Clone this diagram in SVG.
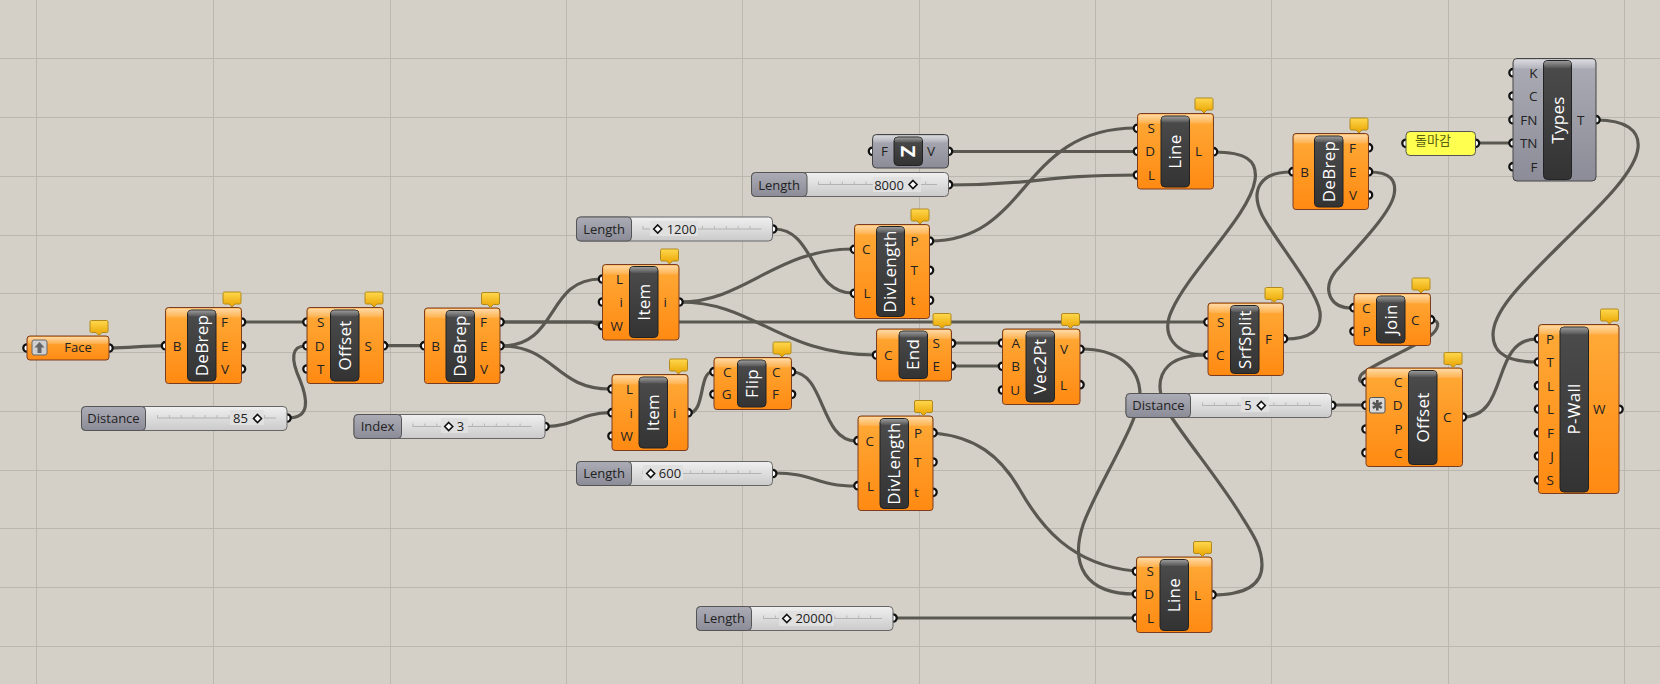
<svg xmlns="http://www.w3.org/2000/svg" width="1660" height="684" viewBox="0 0 1660 684">
<style>
text{font-family:"Open Sans","Noto Sans",sans-serif;fill:#222}
.g{stroke:#bab8ae;stroke-width:1;fill:none}
.w{fill:none;stroke:#5a5850;stroke-width:3.2;stroke-linecap:round}
.p{fill:#fff;stroke:#111;stroke-width:2.3}
.b{fill:url(#or);stroke:#7a3d22;stroke-width:1}
.n{fill:url(#gy);stroke:#444;stroke-width:1}
.hi{fill:url(#hl)}
.c{fill:url(#ca);stroke:#222;stroke-width:1}
.ct{fill:url(#ct)}
.cap{font-size:17px;letter-spacing:.3px;fill:#fff;text-anchor:middle}
.l{font-size:13.5px;text-anchor:end}
.r{font-size:13.5px;text-anchor:start}
.sb{fill:url(#sl);stroke:#666;stroke-width:1}
.sn{fill:url(#gy);stroke:#555;stroke-width:1}
.st{font-size:13px;text-anchor:middle}
.v{font-size:13px;text-anchor:middle}
.rail{stroke:#b2b2b2;stroke-width:1;fill:none}
.tick{stroke:#b8b8b8;stroke-width:3;stroke-dasharray:1 10.9;fill:none}
.m{fill:#e0e0e0}
</style>
<defs>
<linearGradient id="or" x1="0" y1="0" x2="0" y2="1"><stop offset="0" stop-color="#ffaa38"/><stop offset="1" stop-color="#ff8a12"/></linearGradient>
<linearGradient id="gy" x1="0" y1="0" x2="0" y2="1"><stop offset="0" stop-color="#acacb6"/><stop offset="1" stop-color="#8c8c98"/></linearGradient>
<linearGradient id="hl" x1="0" y1="0" x2="0" y2="1"><stop offset="0" stop-color="#fff" stop-opacity=".55"/><stop offset="1" stop-color="#fff" stop-opacity=".12"/></linearGradient>
<linearGradient id="ca" x1="0" y1="0" x2="0" y2="1"><stop offset="0" stop-color="#4c4c4c"/><stop offset="1" stop-color="#333"/></linearGradient>
<linearGradient id="ct" x1="0" y1="0" x2="0" y2="1"><stop offset="0" stop-color="#999"/><stop offset="1" stop-color="#555"/></linearGradient>
<linearGradient id="sl" x1="0" y1="0" x2="0" y2="1"><stop offset="0" stop-color="#f0f0f0"/><stop offset="1" stop-color="#cacaca"/></linearGradient>
<linearGradient id="bu" x1="0" y1="0" x2="0" y2="1"><stop offset="0" stop-color="#ffd84e"/><stop offset="1" stop-color="#e9a300"/></linearGradient>
<path id="bub" d="M-16.5 -15.5H-1.5Q0 -15.5 0 -14V-5Q0 -3.5 -1.5 -3.5H-6L-9 -.5L-12 -3.5H-16.5Q-18 -3.5 -18 -5V-14Q-18 -15.5 -16.5 -15.5Z" fill="url(#bu)" stroke="#b08a1e"/>
<path id="dia" d="M0 -4L4 0L0 4L-4 0Z" fill="#fff" stroke="#111" stroke-width="1.6"/>
</defs>
<rect width="1660" height="684" fill="#d4d0c8"/>
<g id="grid">
<path class="g" d="M36.5 0V684M213.5 0V684M390.5 0V684M566.5 0V684M742.5 0V684M919.5 0V684M1095.5 0V684M1271.5 0V684M1448.5 0V684M1624.5 0V684"/>
<path class="g" d="M0 58.5H1660M0 117.5H1660M0 176.5H1660M0 235.5H1660M0 293.5H1660M0 352.5H1660M0 411.5H1660M0 470.5H1660M0 528.5H1660M0 587.5H1660M0 646.5H1660"/>
</g>
<g id="connectors">
<path class="w" d="M109 348C130 348 140 346 165 345.7"/>
<path class="w" d="M243 322H305"/>
<path class="w" d="M288 418C310 418 308 400 300 380C290 358 292 346 305 346"/>
<path class="w" d="M384 345.7H423"/>
<path class="w" d="M501 322H1206"/>
<path class="w" d="M501 322H590C595 322 597 325 601 325.5"/>
<path class="w" d="M501 346C560 346 545 279 601 279"/>
<path class="w" d="M501 346C555 346 555 389 610 389"/>
<path class="w" d="M546 426.5C575 426 580 413 610 412.7"/>
<path class="w" d="M689 413C705 413 699 372 712 372"/>
<path class="w" d="M792 372C825 372 820 441 856 441"/>
<path class="w" d="M774 473C815 473 815 486 856 486"/>
<path class="w" d="M680 302C745 302 775 249 853 249"/>
<path class="w" d="M680 302C755 302 780 355 875 355"/>
<path class="w" d="M774 229C815 229 810 293 853 293"/>
<path class="w" d="M930 241C1030 241 1020 128 1136 128"/>
<path class="w" d="M949 151.5H1136"/>
<path class="w" d="M949 185C1040 185 1040 175 1136 175"/>
<path class="w" d="M952 343H1001"/>
<path class="w" d="M952 366H1001"/>
<path class="w" d="M1214 152C1245 152 1258 160 1255 180C1250 215 1190 270 1172 310C1160 335 1175 355 1206 355"/>
<path class="w" d="M1212 595C1245 595 1262 585 1262 565C1262 545 1250 530 1237 509C1215 475 1190 445 1170 415C1152 388 1155 355 1206 355"/>
<path class="w" d="M1081 349C1115 349 1140 365 1140 395C1140 420 1095 490 1083 525C1070 565 1085 594 1135 594"/>
<path class="w" d="M934 433C975 437 1000 455 1020 490C1040 525 1070 565 1135 571"/>
<path class="w" d="M894 618H1135"/>
<path class="w" d="M1285 339C1310 339 1322 330 1320 312C1317 290 1275 240 1262 215C1250 190 1260 172 1291 172"/>
<path class="w" d="M1369 172C1390 172 1397 180 1394 195C1390 215 1350 255 1335 272C1322 290 1330 308 1352 308"/>
<path class="w" d="M1431 320C1442 320 1438 330 1430 336C1410 350 1370 365 1361 375C1358 380 1360 382 1364 382"/>
<path class="w" d="M1333 405H1364"/>
<path class="w" d="M1463 417C1510 417 1490 339 1537 339"/>
<path class="w" d="M1597 120C1625 120 1640 130 1638 148C1635 175 1590 215 1560 245C1525 280 1493 310 1493 335C1493 355 1510 362 1537 362"/>
<path class="w" d="M1476 143H1511"/>
</g>

<g id="face">
<circle class="p" cx="27" cy="348" r="3.7"/><circle class="p" cx="109" cy="348" r="3.7"/>
<rect class="b" x="27" y="336" width="82" height="24" rx="3"/><rect class="hi" x="28" y="337" width="80" height="7" rx="2"/>
<rect x="32" y="340" width="15" height="15" rx="2" fill="#cfcfcf" stroke="#666"/>
<path d="M39.5 342L44.5 347.5H41.5V353H37.5V347.5H34.5Z" fill="#666"/>
<text x="78" y="352" font-size="13" text-anchor="middle">Face</text>
<use href="#bub" x="108" y="336"/>
</g>

<g id="debrep1">
<circle class="p" cx="165.5" cy="345.7" r="3.7"/><circle class="p" cx="241.5" cy="322" r="3.7"/><circle class="p" cx="241.5" cy="345.7" r="3.7"/><circle class="p" cx="241.5" cy="369" r="3.7"/>
<rect class="b" x="165.5" y="307.5" width="76" height="76" rx="3"/><rect class="hi" x="166.5" y="308.5" width="74" height="9" rx="2"/>
<rect class="c" x="187.5" y="310" width="28.5" height="71" rx="4"/><rect class="ct" x="188" y="310.5" width="27.5" height="6" rx="3"/>
<text class="cap" transform="translate(207.5,345.5) rotate(-90)">DeBrep</text>
<text class="l" x="181.5" y="350.5">B</text><text class="r" x="221" y="327">F</text><text class="r" x="221" y="350.5">E</text><text class="r" x="221" y="374">V</text>
<use href="#bub" x="241" y="307.5"/>
</g>

<g id="offset1">
<circle class="p" cx="307" cy="322" r="3.7"/><circle class="p" cx="307" cy="345.7" r="3.7"/><circle class="p" cx="307" cy="369" r="3.7"/><circle class="p" cx="383.5" cy="345.7" r="3.7"/>
<rect class="b" x="307" y="307.5" width="76.5" height="76" rx="3"/><rect class="hi" x="308" y="308.5" width="74.5" height="9" rx="2"/>
<rect class="c" x="330.5" y="310" width="28.5" height="71" rx="4"/><rect class="ct" x="331" y="310.5" width="27.5" height="6" rx="3"/>
<text class="cap" transform="translate(350.5,345.5) rotate(-90)">Offset</text>
<text class="l" x="324.5" y="327">S</text><text class="l" x="324.5" y="350.5">D</text><text class="l" x="324.5" y="374">T</text><text class="r" x="364.5" y="350.5">S</text>
<use href="#bub" x="383" y="307.5"/>
</g>

<g id="slider85">
<circle class="p" cx="287" cy="418" r="3.7"/>
<rect class="sb" x="81.5" y="406.5" width="205.5" height="24" rx="4"/>
<rect class="sn" x="81.5" y="406.5" width="64" height="24" rx="4"/>
<text class="st" x="113.5" y="423">Distance</text>
<path class="rail" d="M157 418H276"/><path class="tick" d="M157 416.5H276"/>
<rect class="m" x="230" y="410" width="34" height="15"/>
<text class="v" x="240.5" y="423">85</text><use href="#dia" x="257.5" y="418.5"/>
</g>

<g id="debrep2">
<circle class="p" cx="424.5" cy="345.7" r="3.7"/><circle class="p" cx="500" cy="322" r="3.7"/><circle class="p" cx="500" cy="345.7" r="3.7"/><circle class="p" cx="500" cy="369" r="3.7"/>
<rect class="b" x="424.5" y="308" width="75.5" height="75.5" rx="3"/><rect class="hi" x="425.5" y="309" width="73.5" height="9" rx="2"/>
<rect class="c" x="446" y="310.5" width="28.5" height="71" rx="4"/><rect class="ct" x="446.5" y="311" width="27.5" height="6" rx="3"/>
<text class="cap" transform="translate(466,346) rotate(-90)">DeBrep</text>
<text class="l" x="440" y="350.5">B</text><text class="r" x="480" y="327">F</text><text class="r" x="480" y="350.5">E</text><text class="r" x="480" y="374">V</text>
<use href="#bub" x="499.5" y="308"/>
</g>

<g id="item1">
<circle class="p" cx="602.5" cy="279" r="3.7"/><circle class="p" cx="602.5" cy="302" r="3.7"/><circle class="p" cx="602.5" cy="325.7" r="3.7"/><circle class="p" cx="679" cy="302" r="3.7"/>
<rect class="b" x="602.5" y="264.5" width="76.5" height="75.5" rx="3"/><rect class="hi" x="603.5" y="265.5" width="74.5" height="9" rx="2"/>
<rect class="c" x="629.5" y="266.5" width="28.5" height="71" rx="4"/><rect class="ct" x="630" y="267" width="27.5" height="6" rx="3"/>
<text class="cap" transform="translate(649.5,302) rotate(-90)">Item</text>
<text class="l" x="623" y="284">L</text><text class="l" x="623" y="307">i</text><text class="l" x="623" y="330.5">W</text><text class="r" x="663.5" y="307">i</text>
<use href="#bub" x="678.5" y="264.5"/>
</g>

<g id="item2">
<circle class="p" cx="612" cy="389" r="3.7"/><circle class="p" cx="612" cy="412.7" r="3.7"/><circle class="p" cx="612" cy="436" r="3.7"/><circle class="p" cx="688" cy="412.7" r="3.7"/>
<rect class="b" x="612" y="374.5" width="76" height="76" rx="3"/><rect class="hi" x="613" y="375.5" width="74" height="9" rx="2"/>
<rect class="c" x="639" y="377" width="28.5" height="71" rx="4"/><rect class="ct" x="639.5" y="377.5" width="27.5" height="6" rx="3"/>
<text class="cap" transform="translate(659,412.5) rotate(-90)">Item</text>
<text class="l" x="633" y="394">L</text><text class="l" x="633" y="417.5">i</text><text class="l" x="633" y="441">W</text><text class="r" x="673" y="417.5">i</text>
<use href="#bub" x="687.5" y="374.5"/>
</g>

<g id="sliderIndex">
<circle class="p" cx="545" cy="426.5" r="3.7"/>
<rect class="sb" x="354" y="414.5" width="191" height="24" rx="4"/>
<rect class="sn" x="354" y="414.5" width="47.5" height="24" rx="4"/>
<text class="st" x="377.5" y="431">Index</text>
<path class="rail" d="M412.5 426.5H531.5"/><path class="tick" d="M412.5 425H531.5"/>
<rect class="m" x="441" y="418" width="27" height="15"/>
<use href="#dia" x="448.7" y="426.5"/><text class="v" x="460.5" y="431">3</text>
</g>

<g id="flip">
<circle class="p" cx="714" cy="371.7" r="3.7"/><circle class="p" cx="714" cy="394.3" r="3.7"/><circle class="p" cx="791.5" cy="371.7" r="3.7"/><circle class="p" cx="791.5" cy="394.3" r="3.7"/>
<rect class="b" x="714" y="357.5" width="77.5" height="52" rx="3"/><rect class="hi" x="715" y="358.5" width="75.5" height="9" rx="2"/>
<rect class="c" x="737.5" y="360" width="28.5" height="47" rx="4"/><rect class="ct" x="738" y="360.5" width="27.5" height="6" rx="3"/>
<text class="cap" transform="translate(757.5,383.5) rotate(-90)">Flip</text>
<text class="l" x="731.5" y="376.5">C</text><text class="l" x="731.5" y="399">G</text><text class="r" x="772" y="376.5">C</text><text class="r" x="772" y="399">F</text>
<use href="#bub" x="791" y="357.5"/>
</g>

<g id="slider1200">
<circle class="p" cx="772.7" cy="229" r="3.7"/>
<rect class="sb" x="576.5" y="217" width="196" height="24" rx="4"/>
<rect class="sn" x="576.5" y="217" width="55" height="24" rx="4"/>
<text class="st" x="604" y="233.5">Length</text>
<path class="rail" d="M642.5 229H761.5"/><path class="tick" d="M642.5 227.5H761.5"/>
<rect class="m" x="650" y="221" width="48" height="15"/>
<use href="#dia" x="657.7" y="229"/><text class="v" x="681.5" y="233.5">1200</text>
</g>

<g id="slider600">
<circle class="p" cx="772.7" cy="473.5" r="3.7"/>
<rect class="sb" x="576.5" y="461.5" width="196" height="24" rx="4"/>
<rect class="sn" x="576.5" y="461.5" width="55" height="24" rx="4"/>
<text class="st" x="604" y="478">Length</text>
<path class="rail" d="M642.5 473.5H761.5"/><path class="tick" d="M642.5 472H761.5"/>
<rect class="m" x="643" y="465" width="40" height="15"/>
<use href="#dia" x="650.7" y="473.5"/><text class="v" x="670" y="478">600</text>
</g>

<g id="divlength1">
<circle class="p" cx="854.5" cy="249.3" r="3.7"/><circle class="p" cx="854.5" cy="293.3" r="3.7"/><circle class="p" cx="929.5" cy="241" r="3.7"/><circle class="p" cx="929.5" cy="270.3" r="3.7"/><circle class="p" cx="929.5" cy="300.3" r="3.7"/>
<rect class="b" x="854.5" y="224.5" width="75" height="94" rx="3"/><rect class="hi" x="855.5" y="225.5" width="73" height="9" rx="2"/>
<rect class="c" x="876.5" y="226.5" width="28" height="90" rx="4"/><rect class="ct" x="877" y="227" width="27" height="6" rx="3"/>
<text class="cap" transform="translate(896,271.5) rotate(-90)">DivLength</text>
<text class="l" x="870.5" y="254">C</text><text class="l" x="870.5" y="298">L</text><text class="r" x="910.5" y="246">P</text><text class="r" x="910.5" y="275">T</text><text class="r" x="910.5" y="305">t</text>
<use href="#bub" x="929" y="224.5"/>
</g>

<g id="divlength2">
<circle class="p" cx="858" cy="440.7" r="3.7"/><circle class="p" cx="858" cy="485.7" r="3.7"/><circle class="p" cx="933" cy="432.7" r="3.7"/><circle class="p" cx="933" cy="462" r="3.7"/><circle class="p" cx="933" cy="492.3" r="3.7"/>
<rect class="b" x="858" y="416" width="75" height="94.5" rx="3"/><rect class="hi" x="859" y="417" width="73" height="9" rx="2"/>
<rect class="c" x="880" y="418.5" width="28.5" height="90" rx="4"/><rect class="ct" x="880.5" y="419" width="27.5" height="6" rx="3"/>
<text class="cap" transform="translate(900,463.5) rotate(-90)">DivLength</text>
<text class="l" x="874" y="445.5">C</text><text class="l" x="874" y="490.5">L</text><text class="r" x="914" y="437.5">P</text><text class="r" x="914" y="467">T</text><text class="r" x="914" y="497">t</text>
<use href="#bub" x="932.5" y="416"/>
</g>

<g id="end">
<circle class="p" cx="876.5" cy="355" r="3.7"/><circle class="p" cx="951.5" cy="343.3" r="3.7"/><circle class="p" cx="951.5" cy="366" r="3.7"/>
<rect class="b" x="876.5" y="329" width="75" height="52" rx="3"/><rect class="hi" x="877.5" y="330" width="73" height="9" rx="2"/>
<rect class="c" x="899" y="331" width="28.5" height="47.5" rx="4"/><rect class="ct" x="899.5" y="331.5" width="27.5" height="6" rx="3"/>
<text class="cap" transform="translate(919,354.5) rotate(-90)">End</text>
<text class="l" x="892.5" y="360">C</text><text class="r" x="932.5" y="348">S</text><text class="r" x="932.5" y="371">E</text>
<use href="#bub" x="951" y="329"/>
</g>

<g id="vec2pt">
<circle class="p" cx="1002.5" cy="343" r="3.7"/><circle class="p" cx="1002.5" cy="366.3" r="3.7"/><circle class="p" cx="1002.5" cy="390" r="3.7"/><circle class="p" cx="1080" cy="349.3" r="3.7"/><circle class="p" cx="1080" cy="384.7" r="3.7"/>
<rect class="b" x="1002.5" y="329" width="77.5" height="75.5" rx="3"/><rect class="hi" x="1003.5" y="330" width="75.5" height="9" rx="2"/>
<rect class="c" x="1026" y="331" width="28.5" height="71" rx="4"/><rect class="ct" x="1026.5" y="331.5" width="27.5" height="6" rx="3"/>
<text class="cap" transform="translate(1046,366.5) rotate(-90)">Vec2Pt</text>
<text class="l" x="1020" y="348">A</text><text class="l" x="1020" y="371">B</text><text class="l" x="1020" y="395">U</text><text class="r" x="1060" y="354">V</text><text class="r" x="1060" y="389.5">L</text>
<use href="#bub" x="1079.5" y="329"/>
</g>

<g id="z">
<circle class="p" cx="872.5" cy="151.3" r="3.7"/><circle class="p" cx="948.5" cy="151.3" r="3.7"/>
<rect class="n" x="872.5" y="134.5" width="76" height="33.5" rx="4"/><rect class="hi" x="873.5" y="135.5" width="74" height="7" rx="2"/>
<rect class="c" x="894" y="137" width="28.5" height="28.5" rx="4"/><rect class="ct" x="894.5" y="137.5" width="27.5" height="5" rx="3"/>
<text transform="translate(915,151.5) rotate(-90)" font-size="20" font-weight="700" text-anchor="middle" style="fill:#fff">Z</text>
<text class="l" x="888" y="156">F</text><text class="r" x="927" y="156">V</text>
</g>

<g id="slider8000">
<circle class="p" cx="948.5" cy="184.7" r="3.7"/>
<rect class="sb" x="751.5" y="172.5" width="197" height="24" rx="4"/>
<rect class="sn" x="751.5" y="172.5" width="55.5" height="24" rx="4"/>
<text class="st" x="779" y="189.5">Length</text>
<path class="rail" d="M818 184.5H937"/><path class="tick" d="M818 183H937"/>
<rect class="m" x="873" y="177" width="48" height="15"/>
<text class="v" x="889" y="189.5">8000</text><use href="#dia" x="913" y="184.5"/>
</g>

<g id="line1">
<circle class="p" cx="1137.5" cy="128.3" r="3.7"/><circle class="p" cx="1137.5" cy="151.3" r="3.7"/><circle class="p" cx="1137.5" cy="175" r="3.7"/><circle class="p" cx="1213.5" cy="151.7" r="3.7"/>
<rect class="b" x="1137.5" y="113.5" width="76" height="75.5" rx="3"/><rect class="hi" x="1138.5" y="114.5" width="74" height="9" rx="2"/>
<rect class="c" x="1161" y="116" width="28.5" height="71" rx="4"/><rect class="ct" x="1161.5" y="116.5" width="27.5" height="6" rx="3"/>
<text class="cap" transform="translate(1181,151.5) rotate(-90)">Line</text>
<text class="l" x="1155" y="133">S</text><text class="l" x="1155" y="156">D</text><text class="l" x="1155" y="180">L</text><text class="r" x="1195" y="156">L</text>
<use href="#bub" x="1213" y="113.5"/>
</g>

<g id="line2">
<circle class="p" cx="1136.5" cy="571.3" r="3.7"/><circle class="p" cx="1136.5" cy="594" r="3.7"/><circle class="p" cx="1136.5" cy="618" r="3.7"/><circle class="p" cx="1212" cy="594.7" r="3.7"/>
<rect class="b" x="1136.5" y="557" width="75.5" height="75.5" rx="3"/><rect class="hi" x="1137.5" y="558" width="73.5" height="9" rx="2"/>
<rect class="c" x="1160" y="559.5" width="28.5" height="71" rx="4"/><rect class="ct" x="1160.5" y="560" width="27.5" height="6" rx="3"/>
<text class="cap" transform="translate(1180,595) rotate(-90)">Line</text>
<text class="l" x="1154" y="576">S</text><text class="l" x="1154" y="599">D</text><text class="l" x="1154" y="623">L</text><text class="r" x="1194" y="599.5">L</text>
<use href="#bub" x="1211.5" y="557"/>
</g>

<g id="slider20000">
<circle class="p" cx="893" cy="618" r="3.7"/>
<rect class="sb" x="696.5" y="606.5" width="196.5" height="24" rx="4"/>
<rect class="sn" x="696.5" y="606.5" width="55" height="24" rx="4"/>
<text class="st" x="724" y="623">Length</text>
<path class="rail" d="M763 618.5H882"/><path class="tick" d="M763 617H882"/>
<rect class="m" x="779" y="611" width="55" height="15"/>
<use href="#dia" x="786.8" y="618.5"/><text class="v" x="814" y="623">20000</text>
</g>

<g id="srfsplit">
<circle class="p" cx="1208" cy="322" r="3.7"/><circle class="p" cx="1208" cy="355" r="3.7"/><circle class="p" cx="1283.5" cy="338.7" r="3.7"/>
<rect class="b" x="1208" y="303" width="75.5" height="72.5" rx="3"/><rect class="hi" x="1209" y="304" width="73.5" height="9" rx="2"/>
<rect class="c" x="1230.5" y="305.5" width="28.5" height="68" rx="4"/><rect class="ct" x="1231" y="306" width="27.5" height="6" rx="3"/>
<text class="cap" transform="translate(1250.5,339.5) rotate(-90)">SrfSplit</text>
<text class="l" x="1224.5" y="327">S</text><text class="l" x="1224.5" y="360">C</text><text class="r" x="1265" y="343.5">F</text>
<use href="#bub" x="1283" y="303"/>
</g>

<g id="debrep3">
<circle class="p" cx="1293" cy="171.7" r="3.7"/><circle class="p" cx="1368.5" cy="147.7" r="3.7"/><circle class="p" cx="1368.5" cy="171.7" r="3.7"/><circle class="p" cx="1368.5" cy="195" r="3.7"/>
<rect class="b" x="1293" y="133.5" width="75.5" height="76" rx="3"/><rect class="hi" x="1294" y="134.5" width="73.5" height="9" rx="2"/>
<rect class="c" x="1314.5" y="136" width="28.5" height="71" rx="4"/><rect class="ct" x="1315" y="136.5" width="27.5" height="6" rx="3"/>
<text class="cap" transform="translate(1334.5,171.5) rotate(-90)">DeBrep</text>
<text class="l" x="1309" y="176.5">B</text><text class="r" x="1349" y="152.5">F</text><text class="r" x="1349" y="176.5">E</text><text class="r" x="1349" y="200">V</text>
<use href="#bub" x="1368" y="133.5"/>
</g>

<g id="panel">
<circle class="p" cx="1406" cy="143.3" r="3.7"/><circle class="p" cx="1475.5" cy="143.3" r="3.7"/>
<rect x="1406" y="131.5" width="69.5" height="24" rx="4" fill="#ffff50" stroke="#555"/>
<text x="1415" y="145" font-size="13" style="font-family:'Noto Sans CJK KR',sans-serif;fill:#56600f">돌마감</text>
</g>

<g id="types">
<circle class="p" cx="1513" cy="72.7" r="3.7"/><circle class="p" cx="1513" cy="96" r="3.7"/><circle class="p" cx="1513" cy="119.7" r="3.7"/><circle class="p" cx="1513" cy="143" r="3.7"/><circle class="p" cx="1513" cy="166.7" r="3.7"/><circle class="p" cx="1596" cy="119.7" r="3.7"/>
<rect class="n" x="1513" y="58.5" width="83" height="122.5" rx="4"/><rect class="hi" x="1514" y="59.5" width="81" height="9" rx="2"/>
<rect class="c" x="1543.5" y="60.5" width="28" height="119" rx="4"/><rect class="ct" x="1544" y="61" width="27" height="7" rx="3"/>
<text class="cap" transform="translate(1563.5,120) rotate(-90)">Types</text>
<text class="l" x="1537.5" y="77.5">K</text><text class="l" x="1537.5" y="100.5">C</text><text class="l" x="1537.5" y="124.5">FN</text><text class="l" x="1537.5" y="148">TN</text><text class="l" x="1537.5" y="171.5">F</text><text class="r" x="1577" y="124.5">T</text>
</g>

<g id="join">
<circle class="p" cx="1354" cy="307.7" r="3.7"/><circle class="p" cx="1354" cy="331.3" r="3.7"/><circle class="p" cx="1430.5" cy="319.7" r="3.7"/>
<rect class="b" x="1354" y="293.5" width="76.5" height="52" rx="3"/><rect class="hi" x="1355" y="294.5" width="74.5" height="9" rx="2"/>
<rect class="c" x="1376.5" y="296" width="28.5" height="47" rx="4"/><rect class="ct" x="1377" y="296.5" width="27.5" height="6" rx="3"/>
<text class="cap" transform="translate(1396.5,319.5) rotate(-90)">Join</text>
<text class="l" x="1370.5" y="312.5">C</text><text class="l" x="1370.5" y="336">P</text><text class="r" x="1411" y="324.5">C</text>
<use href="#bub" x="1430" y="293.5"/>
</g>

<g id="slider5">
<circle class="p" cx="1331.7" cy="405.3" r="3.7"/>
<rect class="sb" x="1126" y="393.5" width="205.5" height="24" rx="4"/>
<rect class="sn" x="1126" y="393.5" width="64.5" height="24" rx="4"/>
<text class="st" x="1158.5" y="410">Distance</text>
<path class="rail" d="M1202 405.5H1321"/><path class="tick" d="M1202 404H1321"/>
<rect class="m" x="1241" y="397" width="28" height="15"/>
<text class="v" x="1248" y="410">5</text><use href="#dia" x="1261.3" y="405.5"/>
</g>

<g id="offset2">
<circle class="p" cx="1366" cy="382" r="3.7"/><circle class="p" cx="1366" cy="405.3" r="3.7"/><circle class="p" cx="1366" cy="429" r="3.7"/><circle class="p" cx="1366" cy="452.7" r="3.7"/><circle class="p" cx="1462.5" cy="417" r="3.7"/>
<rect class="b" x="1366" y="368" width="96.5" height="98.5" rx="3"/><rect class="hi" x="1367" y="369" width="94.5" height="9" rx="2"/>
<rect class="c" x="1408.5" y="370.5" width="28.5" height="94" rx="4"/><rect class="ct" x="1409" y="371" width="27.5" height="6" rx="3"/>
<text class="cap" transform="translate(1428.5,417.5) rotate(-90)">Offset</text>
<rect x="1369.5" y="397.5" width="15.5" height="15.5" rx="2" fill="#d8d8d8" stroke="#555"/>
<path d="M1377.3 400V410.5M1372.8 402.6L1381.8 407.9M1381.8 402.6L1372.8 407.9" stroke="#555" stroke-width="2.6" fill="none"/>
<text class="l" x="1402.5" y="387">C</text><text class="l" x="1402.5" y="410">D</text><text class="l" x="1402.5" y="434">P</text><text class="l" x="1402.5" y="457.5">C</text><text class="r" x="1443" y="422">C</text>
<use href="#bub" x="1462" y="368"/>
</g>

<g id="pwall">
<circle class="p" cx="1538.5" cy="338.7" r="3.7"/><circle class="p" cx="1538.5" cy="362" r="3.7"/><circle class="p" cx="1538.5" cy="385.7" r="3.7"/><circle class="p" cx="1538.5" cy="409" r="3.7"/><circle class="p" cx="1538.5" cy="432.7" r="3.7"/><circle class="p" cx="1538.5" cy="456" r="3.7"/><circle class="p" cx="1538.5" cy="480" r="3.7"/><circle class="p" cx="1619" cy="409.3" r="3.7"/>
<rect class="b" x="1538.5" y="324.5" width="80.5" height="169" rx="3"/><rect class="hi" x="1539.5" y="325.5" width="78.5" height="9" rx="2"/>
<rect class="c" x="1560" y="327" width="28.5" height="165" rx="4"/><rect class="ct" x="1560.5" y="327.5" width="27.5" height="7" rx="3"/>
<text class="cap" transform="translate(1580,409) rotate(-90)">P-Wall</text>
<text class="l" x="1554" y="343.5">P</text><text class="l" x="1554" y="367">T</text><text class="l" x="1554" y="390.5">L</text><text class="l" x="1554" y="414">L</text><text class="l" x="1554" y="437.5">F</text><text class="l" x="1554" y="461">J</text><text class="l" x="1554" y="485">S</text><text class="r" x="1593" y="414">W</text>
<use href="#bub" x="1618.5" y="324.5"/>
</g>
</svg>
